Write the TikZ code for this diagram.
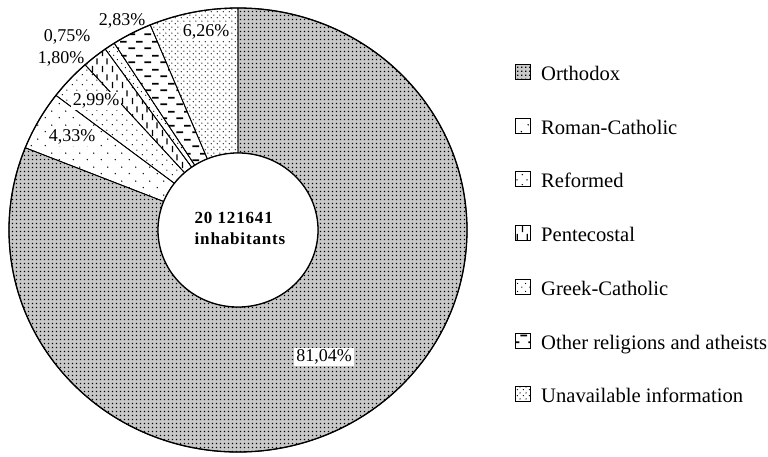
\documentclass[tikz,border=0pt]{standalone}
\usepackage{fontspec}
\setmainfont{Liberation Serif}
\usetikzlibrary{patterns}

% Fill patterns of the seven religion groups
\pgfdeclarepatternformonly{orthodots}{\pgfqpoint{0pt}{0pt}}{\pgfqpoint{4pt}{4pt}}{\pgfqpoint{4pt}{4pt}}{%
  \pgfpathrectangle{\pgfqpoint{1.2pt}{1.2pt}}{\pgfqpoint{1.6pt}{1.6pt}}\pgfusepath{fill}}
\pgfdeclarepatternformonly{romandots}{\pgfqpoint{0pt}{0pt}}{\pgfqpoint{14pt}{14pt}}{\pgfqpoint{14pt}{14pt}}{%
  \pgfpathcircle{\pgfqpoint{3.5pt}{3.5pt}}{0.8pt}\pgfpathcircle{\pgfqpoint{10.5pt}{10.5pt}}{0.8pt}\pgfusepath{fill}}
\pgfdeclarepatternformonly{reformdots}{\pgfqpoint{0pt}{0pt}}{\pgfqpoint{10pt}{10pt}}{\pgfqpoint{10pt}{10pt}}{%
  \pgfpathcircle{\pgfqpoint{2.5pt}{2.5pt}}{0.8pt}\pgfpathcircle{\pgfqpoint{7.5pt}{7.5pt}}{0.8pt}\pgfusepath{fill}}
\pgfdeclarepatternformonly{pentedash}{\pgfqpoint{0pt}{0pt}}{\pgfqpoint{10pt}{16pt}}{\pgfqpoint{10pt}{16pt}}{%
  \pgfpathrectangle{\pgfqpoint{2pt}{1pt}}{\pgfqpoint{1.4pt}{6.5pt}}%
  \pgfpathrectangle{\pgfqpoint{7pt}{9pt}}{\pgfqpoint{1.4pt}{6.5pt}}\pgfusepath{fill}}
\pgfdeclarepatternformonly{greekdots}{\pgfqpoint{0pt}{0pt}}{\pgfqpoint{8pt}{8pt}}{\pgfqpoint{8pt}{8pt}}{%
  \pgfpathcircle{\pgfqpoint{2pt}{2pt}}{0.7pt}\pgfpathcircle{\pgfqpoint{6pt}{6pt}}{0.7pt}\pgfusepath{fill}}
\pgfdeclarepatternformonly{otherdash}{\pgfqpoint{0pt}{0pt}}{\pgfqpoint{16pt}{14pt}}{\pgfqpoint{16pt}{14pt}}{%
  \pgfpathrectangle{\pgfqpoint{0.5pt}{2pt}}{\pgfqpoint{7pt}{1.8pt}}%
  \pgfpathrectangle{\pgfqpoint{8.5pt}{9pt}}{\pgfqpoint{7pt}{1.8pt}}\pgfusepath{fill}}
\pgfdeclarepatternformonly{unavdots}{\pgfqpoint{0pt}{0pt}}{\pgfqpoint{6pt}{6pt}}{\pgfqpoint{6pt}{6pt}}{%
  \pgfpathcircle{\pgfqpoint{1.5pt}{1.5pt}}{0.75pt}\pgfpathcircle{\pgfqpoint{4.5pt}{4.5pt}}{0.75pt}\pgfusepath{fill}}

\begin{document}
\begin{tikzpicture}[
  x=1pt, y=1pt,
  slice/.style={
    draw=black,
    line width=0.8pt
  },
  rim/.style={
    draw=black,
    line width=1.3pt
  },
  pctlabel/.style={
    font=\fontsize{18}{18}\selectfont,
    inner sep=2pt
  },
  pctbox/.style={
    pctlabel,
    fill=white
  },
  keybox/.style={
    draw=black,
    line width=1pt,
    minimum size=15pt,
    inner sep=0pt
  },
  keytext/.style={
    font=\fontsize{20.6}{20.6}\selectfont,
    anchor=base west,
    inner sep=0pt
  }
]
  \useasboundingbox (0,0) rectangle (768,-457);

  % Ring slices (counter-clockwise from the top)
  \begin{scope}[shift={(238,-230)}]
    \draw[slice, preaction={fill=gray!42}, pattern=orthodots]
      (158.256:229 and 222) arc[start angle=158.256, end angle=450, x radius=229, y radius=222]
      -- (450:80 and 77) arc[start angle=450, end angle=158.256, x radius=80, y radius=77] -- cycle;
    \draw[slice, pattern=unavdots]
      (90:229 and 222) arc[start angle=90, end angle=112.536, x radius=229, y radius=222]
      -- (112.536:80 and 77) arc[start angle=112.536, end angle=90, x radius=80, y radius=77] -- cycle;
    \draw[slice, pattern=otherdash]
      (112.536:229 and 222) arc[start angle=112.536, end angle=122.724, x radius=229, y radius=222]
      -- (122.724:80 and 77) arc[start angle=122.724, end angle=112.536, x radius=80, y radius=77] -- cycle;
    \draw[slice, pattern=greekdots]
      (122.724:229 and 222) arc[start angle=122.724, end angle=125.424, x radius=229, y radius=222]
      -- (125.424:80 and 77) arc[start angle=125.424, end angle=122.724, x radius=80, y radius=77] -- cycle;
    \draw[slice, pattern=pentedash]
      (125.424:229 and 222) arc[start angle=125.424, end angle=131.904, x radius=229, y radius=222]
      -- (131.904:80 and 77) arc[start angle=131.904, end angle=125.424, x radius=80, y radius=77] -- cycle;
    \draw[slice, pattern=reformdots]
      (131.904:229 and 222) arc[start angle=131.904, end angle=142.668, x radius=229, y radius=222]
      -- (142.668:80 and 77) arc[start angle=142.668, end angle=131.904, x radius=80, y radius=77] -- cycle;
    \draw[slice, pattern=romandots]
      (142.668:229 and 222) arc[start angle=142.668, end angle=158.256, x radius=229, y radius=222]
      -- (158.256:80 and 77) arc[start angle=158.256, end angle=142.668, x radius=80, y radius=77] -- cycle;

    % Outer and inner rims
    \draw[rim] (0,0) ellipse[x radius=229, y radius=222];
    \draw[rim, fill=white] (0,0) ellipse[x radius=80, y radius=77];
  \end{scope}

  % Total in the hole
  \node[font=\fontsize{17}{21}\selectfont\bfseries\addfontfeature{LetterSpace=5}, align=left]
    (total) at (240,-228) {20 121641\\inhabitants};

  % Percentages
  \node[pctbox] (p81) at (324,-357) {81,04\%};
  \node[pctbox] (p626) at (206,-32) {6,26\%};
  \node[pctlabel] (p283) at (122,-21) {2,83\%};
  \node[pctlabel] (p075) at (67,-37) {0,75\%};
  \node[pctlabel] (p180) at (61,-59) {1,80\%};
  \node[pctbox] (p299) at (96,-101) {2,99\%};
  \node[pctbox] (p433) at (72,-137) {4,33\%};

  % Legend
  \node[keybox, fill=gray!42, postaction={pattern=orthodots}] (korth) at (523,-72) {};
  \node[keybox, pattern=romandots] (krom) at (523,-125.7) {};
  \node[keybox, pattern=reformdots] (kref) at (523,-179.4) {};
  \node[keybox, pattern=pentedash] (kpen) at (523,-233.1) {};
  \node[keybox, pattern=greekdots] (kgre) at (523,-286.8) {};
  \node[keybox, pattern=otherdash] (koth) at (523,-340.5) {};
  \node[keybox, pattern=unavdots] (kuna) at (523,-394.2) {};

  \node[keytext] (torth) at (541,-80.5) {Orthodox};
  \node[keytext] (trom) at (541,-134.2) {Roman-Catholic};
  \node[keytext] (tref) at (541,-187.9) {Reformed};
  \node[keytext] (tpen) at (541,-241.6) {Pentecostal};
  \node[keytext] (tgre) at (541,-295.3) {Greek-Catholic};
  \node[keytext] (toth) at (541,-349) {Other religions and atheists};
  \node[keytext] (tuna) at (541,-402.7) {Unavailable information};
\end{tikzpicture}
\end{document}
